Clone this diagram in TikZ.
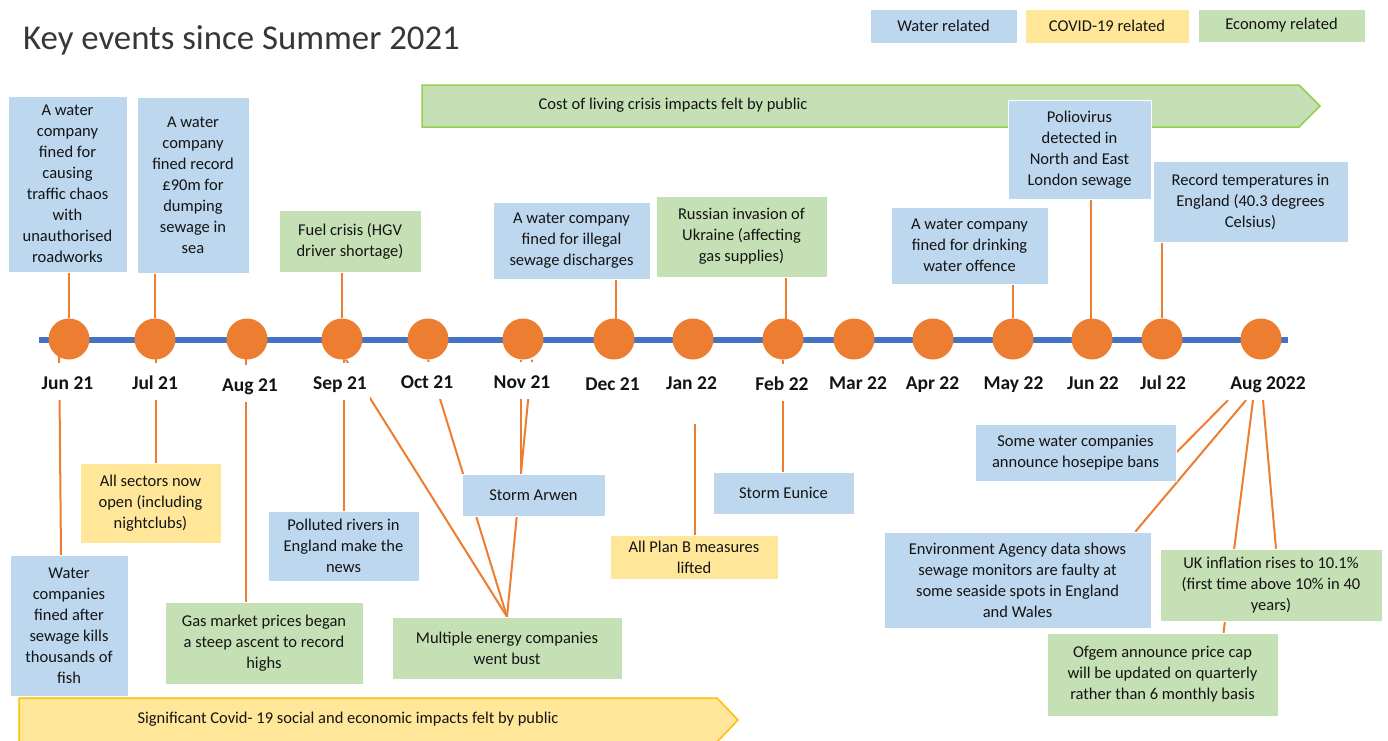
\documentclass[tikz,border=0pt]{standalone}
\usepackage{fontspec}
\setmainfont{Carlito}
\usetikzlibrary{calc}
\definecolor{wblue}{HTML}{BDD7EE}
\definecolor{cyel}{HTML}{FFE699}
\definecolor{egreen}{HTML}{C5E0B4}
\definecolor{dot}{HTML}{ED7D31}
\definecolor{tline}{HTML}{4472C4}
\definecolor{gedge}{HTML}{92D050}
\definecolor{yedge}{HTML}{FFC000}
\definecolor{ink}{HTML}{141414}
\pgfdeclarelayer{bg}\pgfdeclarelayer{lines}\pgfsetlayers{bg,lines,main}
\begin{document}
\begin{tikzpicture}[x=1pt,y=-1pt,
 box/.style={draw=white, line width=0.5pt, inner sep=0pt, align=center, text=ink, font=\fontsize{16.5}{21}\selectfont},
 water/.style={box, fill=wblue},
 covid/.style={box, fill=cyel},
 econ/.style={box, fill=egreen},
 sz/.style 2 args={minimum width=#1, minimum height=#2},
 dotnode/.style={circle, fill=dot, minimum size=41, inner sep=0pt},
 month/.style={anchor=base, fill=white, inner xsep=3pt, inner ysep=0pt, text height=26pt, text depth=11pt, text=ink, font=\bfseries\fontsize{19.5}{22}\selectfont},
 conn/.style={draw=dot, line width=2pt},
 banner/.style={line width=1.5pt},
 bannertext/.style={text=ink, inner sep=0pt, font=\fontsize{16.5}{21}\selectfont}]
\useasboundingbox (0,0) rectangle (1388,740);

% title
\node[anchor=base west, inner sep=0pt, text=ink!85, font=\fontsize{34.8}{40}\selectfont] (title) at (23,49) {Key events since Summer 2021};

% legend
\node[water, sz={147}{34}] (lw) at (943.5,26) {Water related};
\node[covid, sz={164}{34}] (lc) at (1107,26) {COVID-19 related};
\node[econ, sz={167}{33}] (le) at (1281.5,25.5) {Economy related};

% banners and timeline
\begin{pgfonlayer}{bg}
\fill[white] (0,0) rectangle (1388,740);
\draw[banner, fill=egreen, draw=gedge] (422,85) -- (1299,85) -- (1320,106) -- (1299,127) -- (422,127) -- cycle;
\draw[banner, fill=cyel, draw=yedge] (19,698) -- (717,698) -- (738,720) -- (716,743) -- (19,743) -- cycle;
\coordinate (tl0) at (39,340);
\coordinate (tl1) at (1288,340);
\draw[tline, line width=6.5pt] (tl0) -- (tl1);
\end{pgfonlayer}
\node[bannertext] (cost) at (673,105) {Cost of living crisis impacts felt by public};
\node[bannertext] (cov) at (348,719) {Significant Covid- 19 social and economic impacts felt by public};

% timeline dots
\node[dotnode] (c1) at (69,339) {};
\node[dotnode] (c2) at (155,339) {};
\node[dotnode] (c3) at (247,339) {};
\node[dotnode] (c4) at (342,339) {};
\node[dotnode] (c5) at (428,339) {};
\node[dotnode] (c6) at (523,339) {};
\node[dotnode] (c7) at (614,339) {};
\node[dotnode] (c8) at (693,339) {};
\node[dotnode] (c9) at (783,339) {};
\node[dotnode] (c10) at (854,339) {};
\node[dotnode] (c11) at (933,339) {};
\node[dotnode] (c12) at (1013,339) {};
\node[dotnode] (c13) at (1092,339) {};
\node[dotnode] (c14) at (1162,339) {};
\node[dotnode] (c15) at (1261,339) {};

% month labels
\node[month] (l1) at (67.5,389) {Jun 21};
\node[month] (l2) at (155,389) {Jul 21};
\node[month] (l3) at (250,391) {Aug 21};
\node[month] (l4) at (340,389) {Sep 21};
\node[month] (l5) at (427,388) {Oct 21};
\node[month] (l6) at (522,388) {Nov 21};
\node[month] (l7) at (612.5,390) {Dec 21};
\node[month] (l8) at (691.5,389) {Jan 22};
\node[month] (l9) at (782,390) {Feb 22};
\node[month] (l10) at (858,389) {Mar 22};
\node[month] (l11) at (932.5,389) {Apr 22};
\node[month] (l12) at (1013.5,389) {May 22};
\node[month] (l13) at (1093,389) {Jun 22};
\node[month] (l14) at (1163,389) {Jul 22};
\node[month] (l15) at (1268,389) {Aug 2022};

% top boxes
\node[water, sz={119}{176}] (b1) at (67.5,184) {A water\\company\\fined for\\causing\\traffic chaos\\with\\unauthorised\\roadworks};
\node[water, sz={112}{176}] (b2) at (193,185) {A water\\company\\fined record\\£90m for\\dumping\\sewage in\\sea};
\node[econ, sz={142}{62}] (b3) at (350,241) {Fuel crisis (HGV\\driver shortage)};
\node[water, sz={157}{77}] (b5) at (571.5,240.5) {A water company\\fined for illegal\\sewage discharges};
\node[econ, sz={171}{81}] (b6) at (741.5,236.5) {Russian invasion of\\Ukraine (affecting\\gas supplies)};
\node[water, sz={157}{77}] (b7) at (969.5,245.5) {A water company\\fined for drinking\\water offence};
\node[water, sz={143}{99}] (b8) at (1079.5,149.5) {Poliovirus\\detected in\\North and East\\London sewage};
\node[water, sz={195}{81}] (b9) at (1250.5,201.5) {Record temperatures in\\England (40.3 degrees\\Celsius)};

% bottom boxes
\node[water, sz={118}{141}] (d1) at (69,625.5) {Water\\companies\\fined after\\sewage kills\\thousands of\\fish};
\node[covid, sz={141}{80}] (d2) at (150.5,503) {All sectors now\\open (including\\nightclubs)};
\node[econ, sz={198}{82}] (d3) at (264,643) {Gas market prices began\\a steep ascent to record\\highs};
\node[water, sz={151}{70}] (d4) at (343.5,546) {Polluted rivers in\\England make the\\news};
\node[econ, sz={230}{62}] (d5) at (507,648) {Multiple energy companies\\went bust};
\node[water, sz={143}{42}] (d6) at (533.5,495) {Storm Arwen};
\node[covid, sz={168}{44}] (d7) at (694,557) {All Plan B measures\\lifted};
\node[water, sz={141}{42}] (d8) at (783.5,493) {Storm Eunice};
\node[water, sz={201}{57}] (d9) at (1075.5,452.5) {Some water companies\\announce hosepipe bans};
\node[water, sz={267}{96}] (d10) at (1017.5,580) {Environment Agency data shows\\sewage monitors are faulty at\\some seaside spots in England\\and Wales};
\node[econ, sz={222}{72}] (d11) at (1271,585) {UK inflation rises to 10.1\%\\(first time above 10\% in 40\\years)};
\node[econ, sz={231}{83}] (d12) at (1162.5,674.5) {Ofgem announce price cap\\will be updated on quarterly\\rather than 6 monthly basis};

% connector anchor points
\coordinate (s1) at ([xshift=-10pt]c1.center);
\coordinate (s4) at ([xshift=4pt]c4.south);
\coordinate (n6a) at ([xshift=-2pt]c6.south);
\coordinate (n6b) at ([xshift=9pt]c6.south);
\coordinate (j8) at (695,424);
\coordinate (a1) at ([xshift=-40pt]l15.south);
\coordinate (a2) at ([xshift=-22pt]l15.south);
\coordinate (a3) at ([xshift=-15pt]l15.south);
\coordinate (a4) at ([xshift=-5pt]l15.south);

\begin{pgfonlayer}{lines}
% top connectors
\draw[conn] (b1.south -| c1) -- (c1);
\draw[conn] (b2.south -| c2) -- (c2);
\draw[conn] (b3.south -| c4) -- (c4);
\draw[conn] ([xshift=2pt]c7.center) -- ([xshift=2pt]b5.south -| c7);
\draw[conn] ([xshift=3pt]c9.center) -- ([xshift=3pt]b6.south -| c9);
\draw[conn] (b7.south -| c12) -- (c12);
\draw[conn] ([xshift=-1pt]b8.south -| c13) -- ([xshift=-1pt]c13.center);
\draw[conn] (b9.south -| c14) -- (c14);
% bottom connectors
\draw[conn] (s1) -- ([xshift=-8pt]d1.north);
\draw[conn] ([xshift=1pt]c2.center) -- ([xshift=1pt]d2.north -| c2);
\draw[conn] ([xshift=-1pt]c3.center) -- ([xshift=-1pt]d3.north -| c3);
\draw[conn] ([xshift=2pt]c4.center) -- ([xshift=2pt]d4.north -| c4);
\draw[conn] (s4) -- (d5.north);
\draw[conn] (c5.south) -- (d5.north);
\draw[conn] (n6a) -- (d6.north -| n6a);
\draw[conn] (n6b) -- (d5.north);
\draw[conn] (j8) -- (d7.north -| j8);
\draw[conn] (c9) -- (d8.north -| c9);
\draw[conn] (a1) -- (d9.east);
\draw[conn] (a2) -- ([xshift=-16pt]d10.north east);
\draw[conn] (a3) -- ([xshift=61pt]d12.north);
\draw[conn] (a4) -- ([xshift=5pt]d11.north);
\end{pgfonlayer}
\end{tikzpicture}
\end{document}
